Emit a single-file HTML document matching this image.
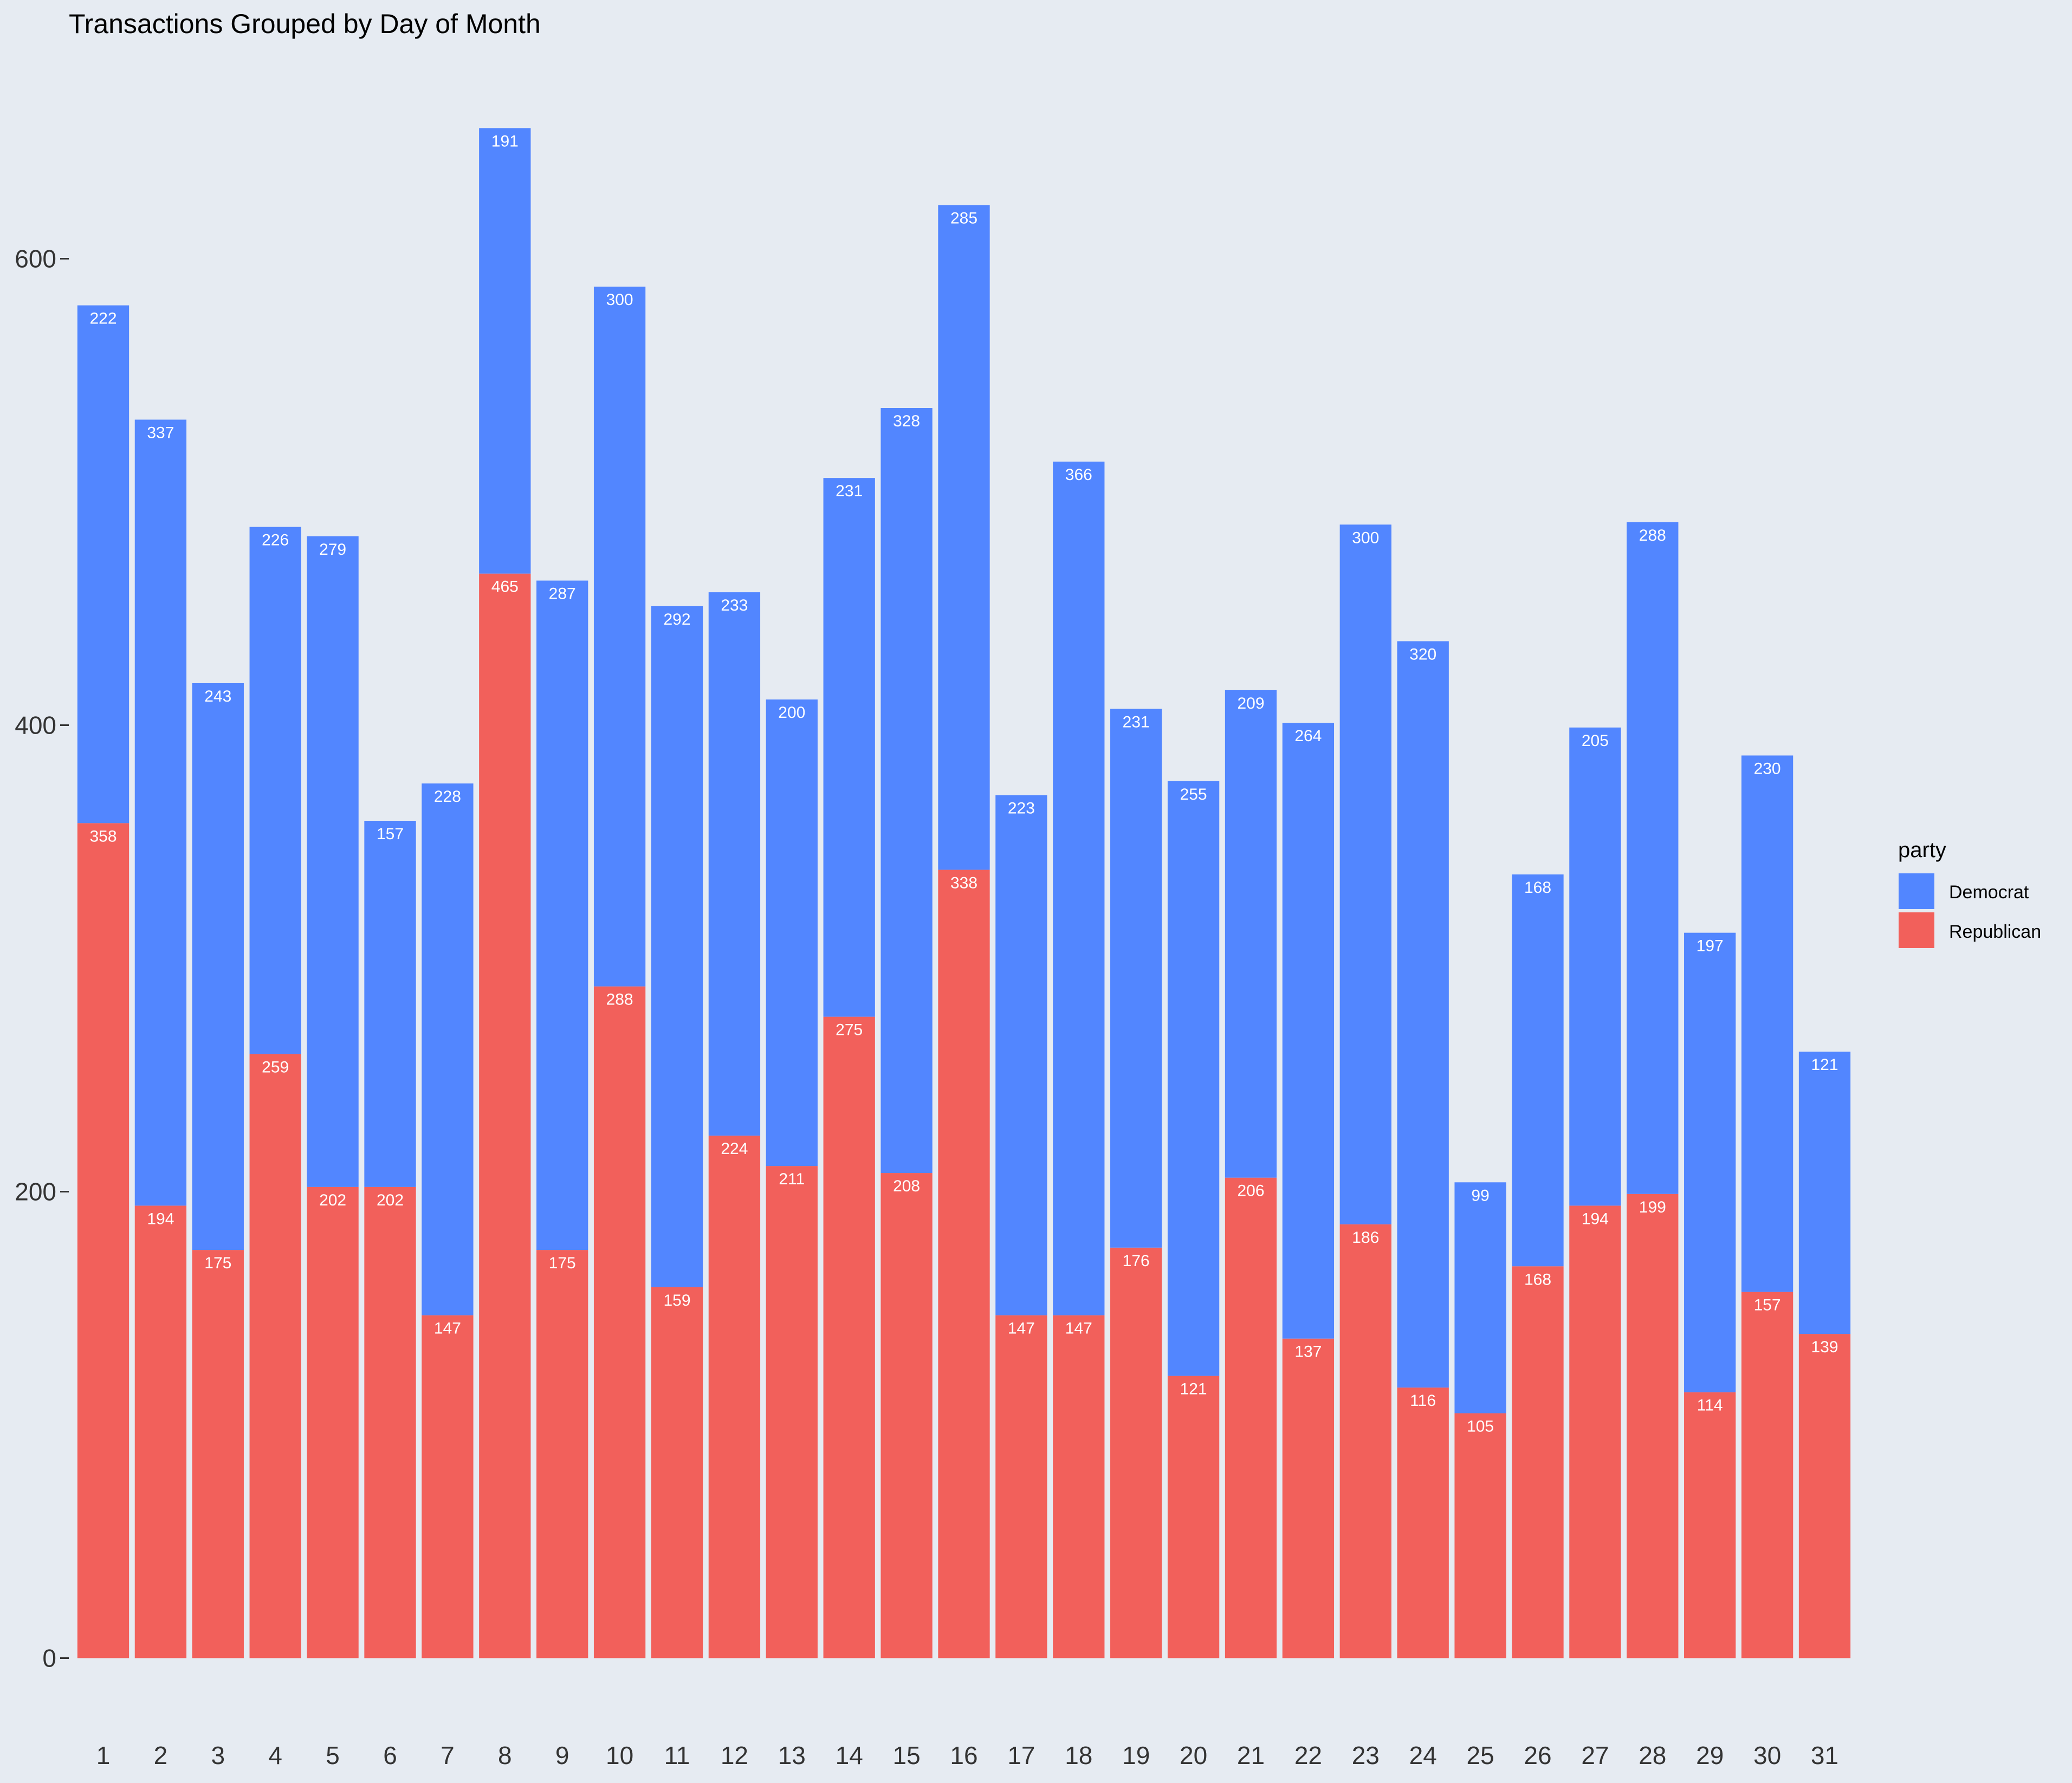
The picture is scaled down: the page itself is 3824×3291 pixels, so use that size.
<!DOCTYPE html>
<html><head><meta charset="utf-8"><style>
html,body{margin:0;padding:0;background:#E6EBF2;}
svg{display:block;font-family:"Liberation Sans",Arial,sans-serif;}
</style></head><body>
<svg id="chart" width="3824" height="3291" viewBox="0 0 3824 3291" xmlns="http://www.w3.org/2000/svg">
<rect x="0" y="0" width="3824" height="3291" fill="#E6EBF2"/>
<text x="127" y="61" font-size="50" fill="#000">Transactions Grouped by Day of Month</text>
<g id="bars"></g>
<g id="axes"></g>
<g>
<text x="3503" y="1582" font-size="40" fill="#000">party</text>
<rect x="3504" y="1612" width="66" height="66" fill="#5286FF"/>
<text x="3597" y="1658" font-size="34" fill="#000">Democrat</text>
<rect x="3504" y="1684" width="66" height="66" fill="#F2605B"/>
<text x="3597" y="1731" font-size="34" fill="#000">Republican</text>
</g>
</svg>
<script>
const days = [1,2,3,4,5,6,7,8,9,10,11,12,13,14,15,16,17,18,19,20,21,22,23,24,25,26,27,28,29,30,31];
const republican = [358,194,175,259,202,202,147,465,175,288,159,224,211,275,208,338,147,147,176,121,206,137,186,116,105,168,194,199,114,157,139];
const democrat = [222,337,243,226,279,157,228,191,287,300,292,233,200,231,328,285,223,366,231,255,209,264,300,320,99,168,205,288,197,230,121];
const yTicks = [0,200,400,600];

const NS = "http://www.w3.org/2000/svg";
const y0 = 3060.5, pxPerUnit = 4.305;
const x0 = 190.5, step = 105.9, barW = 95.3;
function yScale(v){ return y0 - v * pxPerUnit; }
function xScale(i){ return x0 + i * step; }
function mk(tag, attrs){ const e = document.createElementNS(NS, tag); for (const k in attrs) e.setAttribute(k, attrs[k]); return e; }

const bars = document.getElementById('bars');
days.forEach((d, i) => {
  const cx = xScale(i);
  const r = republican[i], dm = democrat[i];
  const rTop = yScale(r), dTop = yScale(r + dm);
  const rb = mk('rect', {x: cx - barW/2, y: rTop, width: barW, height: y0 - rTop, fill: '#F2605B'});
  
  
  bars.appendChild(rb);
  const db = mk('rect', {x: cx - barW/2, y: dTop, width: barW, height: rTop - dTop, fill: '#5286FF'});
  
  
  bars.appendChild(db);
  const rl = mk('text', {x: cx, y: rTop + 34, 'font-size': 30, fill: '#fff', 'text-anchor': 'middle'});
  rl.textContent = r;
  
  
  bars.appendChild(rl);
  const dl = mk('text', {x: cx, y: dTop + 34, 'font-size': 30, fill: '#fff', 'text-anchor': 'middle'});
  dl.textContent = dm;
  
  
  bars.appendChild(dl);
  const xl = mk('text', {x: cx, y: 3256, 'font-size': 46, fill: '#333', 'text-anchor': 'middle'});
  xl.textContent = d;
  
  
  bars.appendChild(xl);
});

const axes = document.getElementById('axes');
yTicks.forEach(t => {
  const y = yScale(t);
  const tk = mk('line', {x1: 111, x2: 127, y1: y, y2: y, stroke: '#333', 'stroke-width': 3});
  
  
  axes.appendChild(tk);
  const lb = mk('text', {x: 104, y: y + 16, 'font-size': 46, fill: '#333', 'text-anchor': 'end'});
  lb.textContent = t;
  
  
  axes.appendChild(lb);
});
</script>
</body></html>
